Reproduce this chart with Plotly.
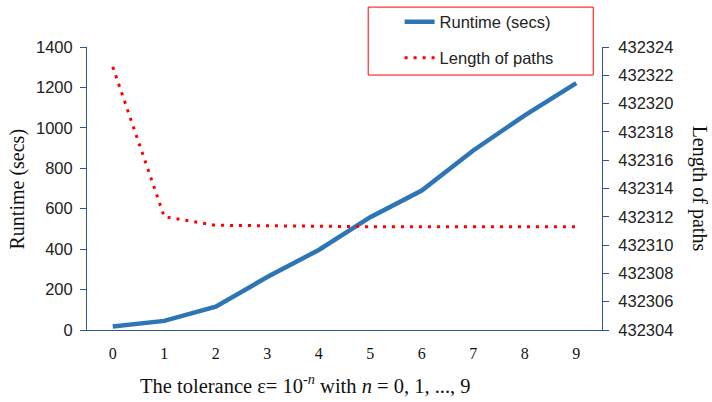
import plotly.graph_objects as go

n_values = [0, 1, 2, 3, 4, 5, 6, 7, 8, 9]
runtime_secs = [17, 45, 115, 262, 396, 558, 690, 888, 1062, 1221]
length_of_paths = [432322.6, 432312.0, 432311.4, 432311.35, 432311.3, 432311.3, 432311.3, 432311.3, 432311.3, 432311.3]

sans = "Liberation Sans"
serif = "Liberation Serif"
axis_color = "#2f5597"

fig = go.Figure()
fig.add_trace(go.Scatter(
    x=n_values, y=runtime_secs, name="Runtime (secs)", mode="lines",
    line=dict(color="#2e75b6", width=4.5), legend="legend"))
fig.add_trace(go.Scatter(
    x=n_values, y=length_of_paths, name="Length of paths", mode="lines",
    line=dict(color="#ff0000", width=3, dash="3px,6px"), yaxis="y2", legend="legend2"))

fig.update_layout(
    width=712, height=402,
    margin=dict(l=87, r=110, t=47, b=72, autoexpand=False),
    paper_bgcolor="white", plot_bgcolor="white",
    font=dict(family=sans, size=16, color="#222"),
    xaxis=dict(range=[-0.5, 9.5], tickmode="array", tickvals=n_values,
               showline=True, linecolor=axis_color, linewidth=1,
               showgrid=False, zeroline=False, ticks="", ticklabelstandoff=9,
               tickfont=dict(family=serif, size=16, color="#111")),
    yaxis=dict(range=[0, 1400], dtick=200, showline=True, linecolor=axis_color,
               linewidth=1, showgrid=False, zeroline=False, ticks="outside",
               ticklen=6, tickcolor=axis_color, ticklabelstandoff=4,
               tickfont=dict(family=sans, size=16.5, color="#222")),
    yaxis2=dict(range=[432304, 432324], dtick=2, overlaying="y", side="right",
                showline=True, linecolor=axis_color, linewidth=1, showgrid=False,
                zeroline=False, ticks="outside", ticklen=6, tickcolor=axis_color,
                tickformat="d", ticklabelstandoff=6,
                tickfont=dict(family=sans, size=16.5, color="#222")),
    legend=dict(x=0.607, y=1.088, xanchor="left", yanchor="middle",
                bgcolor="rgba(0,0,0,0)", font=dict(family=sans, size=16.5, color="#222")),
    legend2=dict(x=0.607, y=0.961, xanchor="left", yanchor="middle",
                 bgcolor="rgba(0,0,0,0)", font=dict(family=sans, size=16.5, color="#222")),
    showlegend=True,
    shapes=[dict(type="rect", xref="paper", yref="paper", x0=0.546, x1=0.983,
                 y0=0.901, y1=1.141, line=dict(color="#ff0000", width=1))],
    annotations=[
        dict(text="Runtime (secs)", xref="paper", yref="paper", x=-0.134, y=0.5,
             textangle=-90, showarrow=False, font=dict(family=serif, size=20, color="#111"),
             xanchor="center", yanchor="middle"),
        dict(text="Length of paths", xref="paper", yref="paper", x=1.19, y=0.5,
             textangle=90, showarrow=False, font=dict(family=serif, size=20, color="#111"),
             xanchor="center", yanchor="middle"),
        dict(text="The tolerance ε= 10<sup>-<i>n</i></sup> with <i>n</i> = 0, 1, ..., 9",
             xref="paper", yref="paper", x=0.425, y=-0.19, showarrow=False,
             font=dict(family=serif, size=20.5, color="#111"),
             xanchor="center", yanchor="middle"),
    ],
)

fig.write_html("out.html", config={"displayModeBar": False},
               post_script="document.body.style.margin='0';")
